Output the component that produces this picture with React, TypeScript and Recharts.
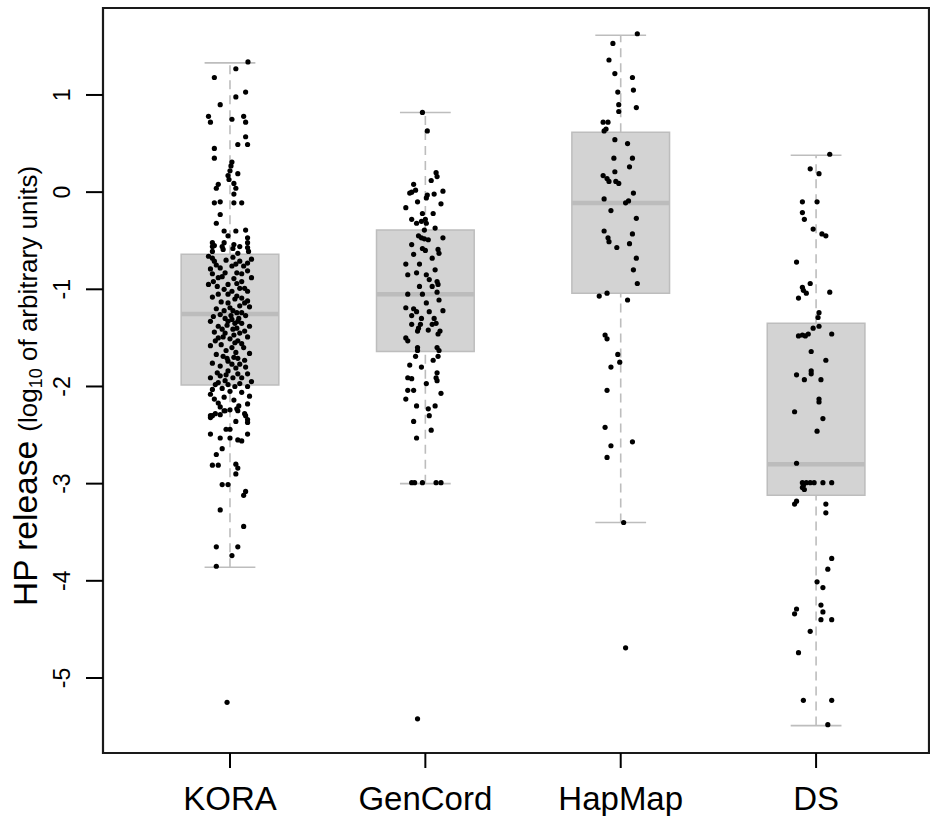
import React from 'react';
import { ComposedChart, XAxis, YAxis, Scatter, ReferenceArea, ReferenceLine } from 'recharts';

const categories = ['KORA', 'GenCord', 'HapMap', 'DS'];
const positions = [1, 2, 3, 4];
const lowerWhisker = [-3.86, -3.0, -3.4, -5.49];
const q1 = [-1.985, -1.64, -1.04, -3.12];
const median = [-1.255, -1.05, -0.113, -2.8];
const q3 = [-0.64, -0.39, 0.617, -1.35];
const upperWhisker = [1.33, 0.82, 1.615, 0.38];
const yTicks = [-5, -4, -3, -2, -1, 0, 1];

// jittered points: [jitter offset in category units, value]
const koraPoints: [number, number][] = [
  [0.092, 1.34], [0.03, 1.27], [-0.08, 1.18], [0.08, 1.03], [0.03, 0.98], [-0.05, 0.9], [-0.11, 0.78], [-0.1, 0.72], [0.01, 0.75], [0.07, 0.78], [0.08, 0.72], [0.08, 0.57], [0.04, 0.49], [0.09, 0.49], [-0.08, 0.45], [-0.08, 0.35],
  [0.01, 0.31], [0.005, 0.27], [0, 0.22], [-0.01, 0.17], [-0.005, 0.13], [0.04, 0.19], [0.02, 0.09], [-0.06, 0.08], [-0.07, 0.04], [0.03, 0.04], [0.02, -0.02], [-0.08, -0.11], [-0.05, -0.1], [0.02, -0.11], [0.06, -0.11], [-0.05, -0.23], [-0.07, -0.32], [-0.03, -0.4], [0.03, -0.4], [0.08, -0.39],
  [-0.01, -0.45], [0.09, -0.47], [-0.09, -0.52], [-0.08, -0.55], [-0.03, -0.52], [0.02, -0.54], [0.05, -0.56], [0.09, -0.57],
  [-0.09, -0.56], [-0.09, -0.61], [-0.04, -0.56], [-0.035, -0.59], [0.015, -0.58], [0.04, -0.63], [0.09, -0.52], [0.095, -0.61],
  [-0.09, -0.68], [-0.08, -0.71], [0.015, -0.67], [0.05, -0.71], [0.07, -0.76], [0.09, -0.73],
  [-0.1, -0.79], [-0.09, -0.84], [-0.05, -0.78], [-0.025, -0.83], [0.01, -0.76], [0.035, -0.83], [0.06, -0.84], [0.09, -0.81],
  [-0.085, -0.92], [-0.06, -0.88], [-0.065, -0.97], [-0.01, -0.95], [0.035, -0.94], [0.06, -0.92], [0.075, -0.99], [0.09, -1.02],
  [-0.06, -1.05], [-0.01, -1.05], [0.01, -1.02], [0.035, -1.07], [0.06, -1.09], [0.075, -1.14], [0.09, -1.12],
  [-0.01, -1.14], [0, -1.19], [0.015, -1.22], [0.05, -1.17], [0.035, -1.24], [0.06, -1.24],
  [-0.085, -1.28], [-0.025, -1.3], [-0.01, -1.33], [0.01, -1.31], [0.025, -1.35], [0.04, -1.33], [0.06, -1.35],
  [-0.06, -1.38], [-0.04, -1.41], [-0.025, -1.45], [0.015, -1.41], [0.035, -1.4], [0.05, -1.45], [0.075, -1.43],
  [-0.075, -1.53], [-0.06, -1.5], [0, -1.51], [0.01, -1.6], [0.025, -1.55], [0.04, -1.53], [0.06, -1.56],
  [-0.015, -1.71], [-0.01, -1.74], [0.01, -1.77], [0.04, -1.71], [0.05, -1.77],
  [-0.1, -1.91], [-0.065, -1.86], [-0.05, -1.89], [-0.025, -1.94], [-0.01, -1.84], [0.015, -1.91], [0.04, -1.87], [0.06, -1.91], [0.09, -1.87],
  [-0.09, -2.03], [-0.075, -1.98], [-0.04, -2.02], [-0.01, -1.98], [0.025, -2.0], [0.09, -2.0],
  [-0.06, -2.17], [-0.1, -2.3], [-0.075, -2.28], [-0.025, -2.25], [0.035, -2.23], [0.075, -2.28],
  [-0.11, -0.66], [-0.02, -0.7], [0.03, -0.74], [0.11, -0.69], [-0.07, -0.75], [-0.04, -0.87], [0.02, -0.89], [0.11, -0.88], [-0.11, -0.95], [0.05, -0.99], [-0.03, -1.0], [-0.09, -1.08], [0.025, -1.1], [-0.045, -1.13], [0.1, -1.18], [-0.07, -1.2], [-0.03, -1.22], [0.08, -1.27], [-0.05, -1.26], [0.005, -1.27], [-0.1, -1.33], [0.045, -1.3], [0.1, -1.38], [-0.015, -1.37], [-0.08, -1.44], [0.02, -1.47], [0.09, -1.49], [-0.035, -1.49], [-0.1, -1.58], [-0.045, -1.57], [0.07, -1.6], [-0.02, -1.63], [0.03, -1.65], [0.1, -1.66], [-0.07, -1.67], [-0.035, -1.69], [0.02, -1.7], [0.075, -1.73], [-0.09, -1.76], [-0.05, -1.79], [0.03, -1.81], [0.08, -1.8], [-0.02, -1.88], [0.11, -1.95], [-0.06, -1.96], [0.05, -1.97], [0, -2.05], [-0.1, -2.08], [0.06, -2.06], [0.1, -2.1], [-0.03, -2.11], [0.02, -2.14], [-0.08, -2.13], [0.09, -2.18], [0.045, -2.2], [-0.05, -2.21],
  [-0.1, -2.32], [-0.09, -2.3], [-0.05, -2.29], [-0.03, -2.25], [0, -2.24], [0.04, -2.25], [0.08, -2.3], [0.09, -2.34], [0.09, -2.37], [0.03, -2.36], [0, -2.44], [-0.02, -2.44], [-0.1, -2.49], [-0.05, -2.53], [0, -2.53], [0.04, -2.55], [0.06, -2.56], [0.09, -2.49], [-0.07, -2.7], [-0.04, -2.64], [-0.09, -2.81], [-0.06, -2.81], [0.03, -2.8], [0.04, -2.84], [0.03, -2.9], [-0.04, -3.01], [-0.01, -3.01], [0.08, -3.08], [0.07, -3.12], [-0.05, -3.27], [0.07, -3.44], [-0.07, -3.65], [0.04, -3.65], [0.01, -3.74], [-0.07, -3.85], [-0.015, -5.25],
];

const genCordPoints: [number, number][] = [
  [-0.015, 0.82], [0.01, 0.63], [0.055, 0.2], [0.06, 0.16], [0.03, 0.12], [-0.06, 0.08], [-0.08, -0.01], [-0.07, 0.0], [-0.05, 0.02], [0.09, 0.01], [-0.04, -0.1], [0.005, -0.06], [0.01, -0.03], [0.045, -0.02], [-0.1, -0.16], [-0.015, -0.22], [0.04, -0.22], [-0.07, -0.28], [-0.045, -0.32], [-0.02, -0.3], [0, -0.28], [0.005, -0.32], [0.05, -0.37], [-0.005, -0.39], [-0.035, -0.45], [-0.02, -0.47], [-0.005, -0.48], [0.015, -0.49], [0.09, -0.47], [-0.07, -0.54], [-0.015, -0.58], [0.065, -0.59], [0.07, -0.63], [0.035, -0.68], [-0.1, -0.74], [-0.03, -0.74], [0.05, -0.8], [-0.09, -0.85], [-0.045, -0.83], [0.005, -0.85], [0.06, -0.92], [0.065, -0.95], [-0.03, -0.97], [0.035, -0.97], [-0.09, -1.05], [-0.015, -1.05], [0.06, -1.03], [0.07, -1.11], [0.005, -1.14], [-0.1, -1.19], [-0.06, -1.2], [-0.045, -1.23], [0.02, -1.23], [0.09, -1.22], [-0.07, -1.27], [0.045, -1.3], [-0.025, -1.36], [0.035, -1.36], [0.055, -1.35], [-0.07, -1.36], [-0.035, -1.4], [-0.04, -1.43], [0.015, -1.42], [0.075, -1.43], [0.065, -1.46], [-0.1, -1.5], [-0.09, -1.53], [-0.04, -1.6], [-0.04, -1.63], [0.06, -1.6], [0.07, -1.63], [-0.05, -1.69], [0.065, -1.69], [0.04, -1.73], [-0.09, -1.91], [-0.07, -1.92], [0.06, -1.86], [0.055, -1.91], [0.06, -1.94], [0.005, -1.97], [-0.09, -2.04], [-0.06, -2.04], [-0.1, -2.13], [-0.045, -2.2], [0.015, -2.23], [0.05, -2.2], [-0.06, -2.36], [-0.045, -2.53], [-0.07, -2.99], [-0.055, -2.99], [-0.015, -2.99], [0.055, -2.99], [0.08, -2.99], [-0.04, -5.42],
  [-0.02, -1.8], [0.02, -2.3], [0.03, -2.45], [-0.08, -1.78], [0.08, -2.07], [0.0, -0.6], [-0.06, -0.64], [0.08, -0.12], [0.02, -0.9], [-0.02, -1.3],
];

const hapMapPoints: [number, number][] = [
  [0.085, 1.63], [-0.04, 1.53], [-0.06, 1.36], [-0.03, 1.22], [0.06, 1.18], [0.065, 1.05], [-0.015, 1.03], [-0.01, 0.9], [-0.01, 0.83], [0.08, 0.87], [-0.09, 0.72], [-0.065, 0.72], [-0.075, 0.65], [-0.085, 0.63], [-0.03, 0.54], [0.035, 0.5], [-0.035, 0.35], [0.06, 0.35], [0.045, 0.26], [-0.03, 0.21], [-0.09, 0.17], [-0.07, 0.14], [-0.06, 0.11], [-0.025, 0.11], [-0.01, 0.09], [0.065, -0.01], [-0.085, -0.07], [0.025, -0.11], [0.04, -0.09], [-0.05, -0.19], [0.08, -0.27], [-0.085, -0.4], [-0.065, -0.47], [-0.06, -0.51], [-0.02, -0.57], [0.045, -0.53], [0.06, -0.43], [0.08, -0.68], [0.065, -0.8], [0.085, -0.94], [-0.11, -1.07], [-0.07, -1.04], [0.035, -1.11], [-0.08, -1.47], [-0.07, -1.51], [-0.015, -1.67], [-0.005, -1.75], [-0.05, -1.8], [-0.07, -2.04], [-0.08, -2.42], [-0.05, -2.61], [-0.07, -2.73], [0.06, -2.57], [0.015, -3.4], [0.025, -4.69],
];

const dsPoints: [number, number][] = [
  [0.07, 0.39], [-0.03, 0.24], [0.015, 0.19], [-0.07, -0.1], [0.005, -0.1], [-0.07, -0.21], [-0.06, -0.28], [-0.015, -0.38], [0.03, -0.43], [0.05, -0.45], [-0.1, -0.72], [-0.03, -0.94], [-0.07, -0.98], [-0.065, -1.01], [-0.05, -1.04], [-0.09, -1.09], [0.07, -1.03], [0.015, -1.24], [0.01, -1.29], [0.015, -1.38], [-0.015, -1.4], [-0.09, -1.48], [-0.07, -1.47], [-0.055, -1.48], [-0.04, -1.46], [0.08, -1.46], [-0.025, -1.64], [0.05, -1.73], [-0.1, -1.88], [-0.06, -1.93], [-0.025, -1.84], [-0.025, -1.87], [0.025, -1.93], [0.015, -2.13], [0.015, -2.16], [-0.11, -2.26], [0.035, -2.33], [0.005, -2.46], [-0.1, -2.79], [-0.07, -2.99], [-0.05, -2.99], [-0.03, -2.99], [-0.01, -2.99], [0.035, -2.99], [0.08, -2.99], [-0.07, -3.04], [-0.065, -3.02], [-0.06, -3.06], [-0.11, -3.21], [-0.1, -3.18], [0.05, -3.21], [0.05, -3.3], [0.08, -3.77], [0.06, -3.88], [0.005, -4.01], [0.035, -4.07], [0.025, -4.25], [0.035, -4.32], [-0.1, -4.29], [-0.11, -4.34], [0.025, -4.4], [0.08, -4.4], [-0.03, -4.52], [-0.09, -4.74], [-0.065, -5.23], [0.08, -5.23], [0.06, -5.48],
];

const groupPoints = [koraPoints, genCordPoints, hapMapPoints, dsPoints];

const X_DOMAIN: [number, number] = [0.35, 4.578];
const Y_DOMAIN: [number, number] = [-5.772, 1.895];
const BOX_HALF = 0.25;
const CAP_HALF = 0.13;
const FONT = '"Liberation Sans", Arial, Helvetica, sans-serif';

const scatterData = groupPoints.flatMap((pts, gi) =>
  pts.map(([dx, v]) => ({ x: positions[gi] + dx, y: v }))
);

const Dot = (props: any) => {
  if (props.cx == null || props.cy == null) return null;
  return <circle cx={props.cx} cy={props.cy} r={2.6} fill="#000" />;
};

const YTick = (props: any) => {
  const { x, y, payload } = props;
  return (
    <text
      transform={`translate(${x - 14},${y}) rotate(-90)`}
      textAnchor="middle"
      fontSize={23}
      fontFamily={FONT}
      fill="#000"
    >
      {payload.value}
    </text>
  );
};

const XTick = (props: any) => {
  const { x, y, payload } = props;
  const idx = positions.indexOf(payload.value);
  return (
    <text x={x} y={y + 40} textAnchor="middle" fontSize={33} fontFamily={FONT} fill="#000">
      {idx >= 0 ? categories[idx] : ''}
    </text>
  );
};

const YTitle = () => (
  <text
    transform="translate(37,386) rotate(-90)"
    textAnchor="middle"
    fontFamily={FONT}
    fill="#000"
  >
    <tspan fontSize={33.5}>HP release </tspan>
    <tspan fontSize={26}>(log</tspan>
    <tspan fontSize={18} dy={5}>10</tspan>
    <tspan fontSize={26} dy={-5}> of arbitrary units)</tspan>
  </text>
);

export default function App() {
  const boxColor = '#d3d3d3';
  const boxStroke = '#bdbdbd';
  const whisker = '#bdbdbd';
  return (
    <div style={{ position: 'absolute', left: 0, top: 0, background: '#fff' }}>
      <ComposedChart
        width={930}
        height={816}
        margin={{ top: 8, right: 1, bottom: 0, left: 0 }}
        data={scatterData}
      >
        <XAxis
          type="number"
          dataKey="x"
          domain={X_DOMAIN}
          ticks={positions}
          allowDataOverflow
          axisLine={false}
          tickLine={{ stroke: '#000', strokeWidth: 2 }}
          tickSize={15}
          height={63}
          interval={0}
          tick={<XTick />}
        />
        <YAxis
          type="number"
          dataKey="y"
          domain={Y_DOMAIN}
          ticks={yTicks}
          allowDataOverflow
          axisLine={false}
          tickLine={{ stroke: '#000', strokeWidth: 2 }}
          tickSize={17}
          width={103}
          interval={0}
          tick={<YTick />}
          label={<YTitle />}
        />
        {positions.map((p, i) => (
          <ReferenceLine
            key={`wl-${i}`}
            segment={[{ x: p, y: lowerWhisker[i] }, { x: p, y: q1[i] }]}
            stroke={whisker}
            strokeWidth={1.6}
            strokeDasharray="9 6"
          />
        ))}
        {positions.map((p, i) => (
          <ReferenceLine
            key={`wu-${i}`}
            segment={[{ x: p, y: q3[i] }, { x: p, y: upperWhisker[i] }]}
            stroke={whisker}
            strokeWidth={1.6}
            strokeDasharray="9 6"
          />
        ))}
        {positions.map((p, i) => (
          <ReferenceLine
            key={`cl-${i}`}
            segment={[{ x: p - CAP_HALF, y: lowerWhisker[i] }, { x: p + CAP_HALF, y: lowerWhisker[i] }]}
            stroke={whisker}
            strokeWidth={1.6}
          />
        ))}
        {positions.map((p, i) => (
          <ReferenceLine
            key={`cu-${i}`}
            segment={[{ x: p - CAP_HALF, y: upperWhisker[i] }, { x: p + CAP_HALF, y: upperWhisker[i] }]}
            stroke={whisker}
            strokeWidth={1.6}
          />
        ))}
        {positions.map((p, i) => (
          <ReferenceArea
            key={`box-${i}`}
            x1={p - BOX_HALF}
            x2={p + BOX_HALF}
            y1={q1[i]}
            y2={q3[i]}
            fill={boxColor}
            fillOpacity={1}
            stroke={boxStroke}
            strokeWidth={1.5}
          />
        ))}
        {positions.map((p, i) => (
          <ReferenceLine
            key={`med-${i}`}
            segment={[{ x: p - BOX_HALF, y: median[i] }, { x: p + BOX_HALF, y: median[i] }]}
            stroke="#bcbcbc"
            strokeWidth={4.5}
          />
        ))}
        <ReferenceArea
          x1={X_DOMAIN[0]}
          x2={X_DOMAIN[1]}
          y1={Y_DOMAIN[0]}
          y2={Y_DOMAIN[1]}
          fill="none"
          stroke="#1a1a1a"
          strokeWidth={2.2}
          ifOverflow="visible"
        />
        <Scatter data={scatterData} dataKey="y" shape={<Dot />} isAnimationActive={false} />
      </ComposedChart>
    </div>
  );
}
